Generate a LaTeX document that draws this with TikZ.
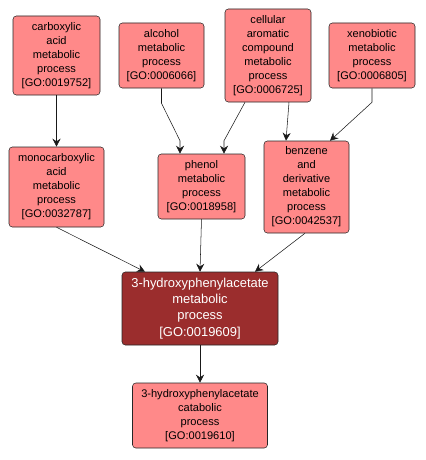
\documentclass[tikz,border=0pt]{standalone}
\usepackage{fontspec}
\setmainfont{Liberation Sans}
\usetikzlibrary{arrows.meta,calc}
\definecolor{termcolor}{RGB}{255,137,137}
\definecolor{maincolor}{RGB}{155,45,45}

\begin{document}
\begin{tikzpicture}[x=0.75pt,y=-0.75pt,
    term/.style={draw=black!85,fill=termcolor,rounded corners=2.5pt,align=center,
      inner sep=0pt,font=\fontsize{8.3}{10.5}\selectfont},
    focus/.style={term,fill=maincolor,text=white,font=\fontsize{9.7}{12.2}\selectfont},
    isa/.style={-{Stealth[length=6pt,width=6pt,inset=2pt]},black!90}]
  \useasboundingbox (0,0) rectangle (425,460);
  % top row
  \node[term,minimum width=65.25pt,minimum height=59.25pt] (carb) at (56.5,55.5)
    {carboxylic\\acid\\metabolic\\process\\{[}GO:0019752{]}};
  \node[term,minimum width=63.75pt,minimum height=48.75pt] (alc) at (161.5,55.5)
    {alcohol\\metabolic\\process\\{[}GO:0006066{]}};
  \node[term,minimum width=64.5pt,minimum height=69.75pt] (cell) at (268,55.5)
    {cellular\\aromatic\\compound\\metabolic\\process\\{[}GO:0006725{]}};
  \node[term,minimum width=64.5pt,minimum height=48.75pt] (xeno) at (372,55.5)
    {xenobiotic\\metabolic\\process\\{[}GO:0006805{]}};
  % middle row
  \node[term,minimum width=71.25pt,minimum height=60pt] (mono) at (56.5,187)
    {monocarboxylic\\acid\\metabolic\\process\\{[}GO:0032787{]}};
  \node[term,minimum width=65.25pt,minimum height=48.75pt] (phen) at (201.5,186.5)
    {phenol\\metabolic\\process\\{[}GO:0018958{]}};
  \node[term,minimum width=63.75pt,minimum height=69pt] (benz) at (306.5,187)
    {benzene\\and\\derivative\\metabolic\\process\\{[}GO:0042537{]}};
  % bottom
  \node[focus,minimum width=117pt,minimum height=54.75pt] (hyd) at (200,308.5)
    {3-hydroxyphenylacetate\\metabolic\\process\\{[}GO:0019609{]}};
  \node[term,minimum width=101.25pt,minimum height=48.75pt] (cata) at (200,415.5)
    {3-hydroxyphenylacetate\\catabolic\\process\\{[}GO:0019610{]}};

  \draw[isa] (carb.south) -- (mono.north);
  \draw[isa] (alc.south) -- ++(0,15) -- ($(phen.north)+(-21.5,-13)$) -- ($(phen.north)+(-21.5,0)$);
  \draw[isa] ($(cell.south)+(-23,0)$) -- ($(phen.north)+(22.5,-13)$) -- ($(phen.north)+(22.5,0)$);
  \draw[isa] ($(cell.south)+(21,0)$) -- ($(benz.north)+(-20.5,0)$);
  \draw[isa] (xeno.south) -- ++(0,14) -- ($(benz.north)+(23.5,0)$);
  \draw[isa] (mono.south) -- ($(hyd.north)+(-55,0)$);
  \draw[isa] (phen.south) -- (hyd.north);
  \draw[isa] ($(benz.south)+(-1.5,0)$) -- ($(hyd.north)+(55,0)$);
  \draw[isa] (hyd.south) -- (cata.north);
\end{tikzpicture}
\end{document}
